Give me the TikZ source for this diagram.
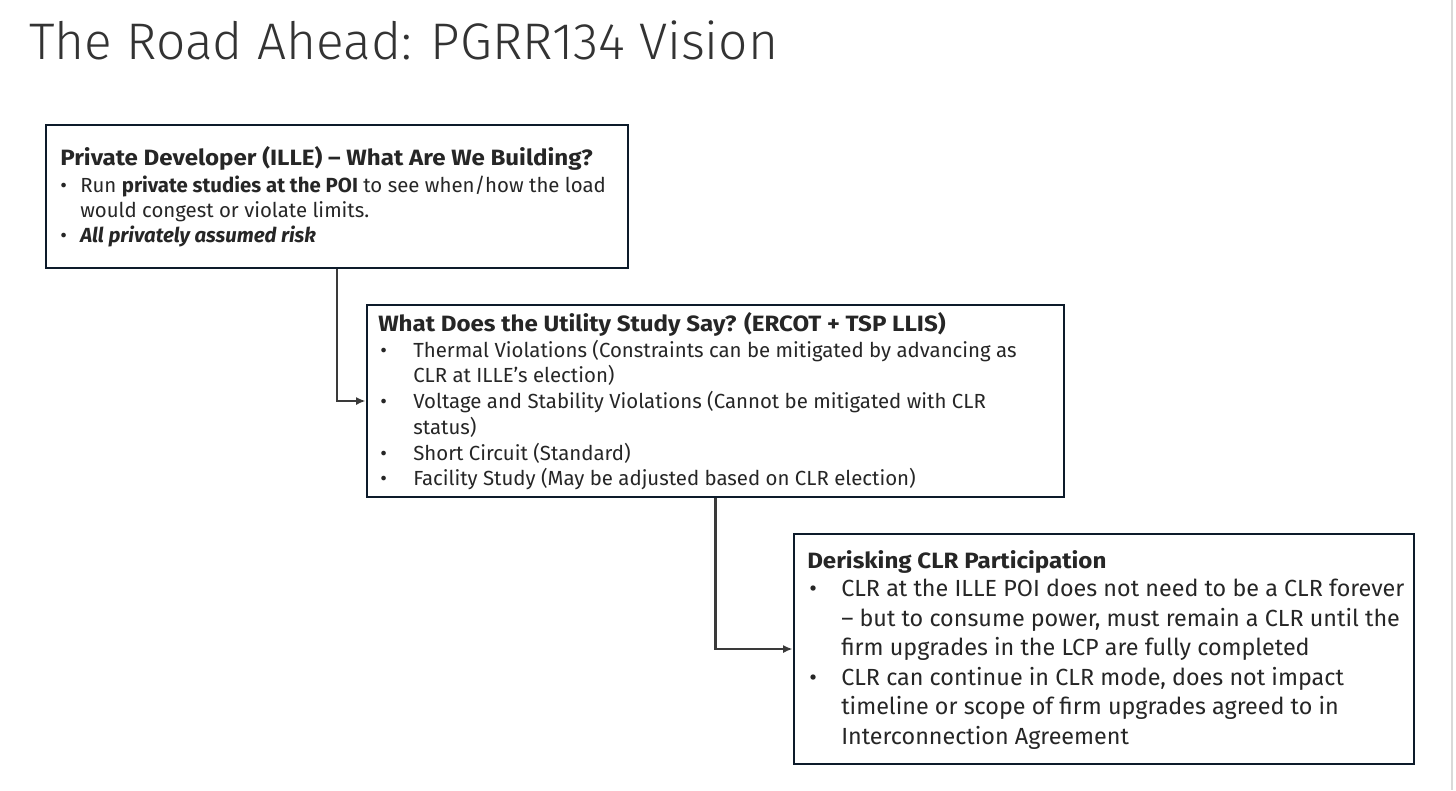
\documentclass[tikz,border=0pt]{standalone}
\usepackage{fontspec}
\setmainfont{Fira Sans}
\newfontfamily\hdfont{Fira Sans}[FakeStretch=1.09]
\newfontfamily\titlefont{Fira Sans Light}
\usetikzlibrary{arrows.meta,fit}
\definecolor{boxc}{HTML}{0D1B2A}
\definecolor{txt}{HTML}{262626}
\definecolor{titc}{HTML}{333333}
\definecolor{conn}{HTML}{3A3A3A}
\definecolor{edgec}{HTML}{D9D9D9}
\begin{document}
\begin{tikzpicture}[x=0.75pt,y=-0.75pt,
  box/.style={draw=boxc, line width=2.2pt, inner sep=0pt},
  tl/.style={anchor=base west, inner sep=0pt, text=txt},
  hd/.style={tl, font=\hdfont\fontsize{16.6}{19}\selectfont\bfseries},
  bA/.style={tl, font=\fontsize{15.3}{18}\selectfont},
  bC/.style={tl, font=\fontsize{17.5}{21}\selectfont},
  conn/.style={draw=conn, line width=1.6pt, -{Latex[length=7pt,width=6pt]}}]
\useasboundingbox (0,0) rectangle (1456,790);
\fill[white] (0,0) rectangle (1456,790);
\draw[edgec, line width=2.2pt] (1452,0) -- (1452,790);

\node[tl, text=titc, font=\titlefont\fontsize{38.6}{46}\selectfont] (title) at (29,59.5) {The Road Ahead: PGRR134 Vision};

% boxes
\node[box, fit={(46,125) (628,268)}] (box1) {};
\node[box, fit={(367,305) (1064,497)}] (box2) {};
\node[box, fit={(794,534) (1414,764)}] (box3) {};

% box 1 text
\node[hd] (h1) at (60,165.7) {Private Developer (ILLE) – What Are We Building?};
\node[bA] (p1a) at (60,192.3) {•};
\node[bA] (t1a) at (80,192.3) {Run \textbf{private studies at the POI} to see when/how the load};
\node[bA] (t1b) at (80,217.3) {would congest or violate limits.};
\node[bA] (p1b) at (60,242.3) {•};
\node[bA] (t1c) at (80,242.3) {\textbf{\textit{All privately assumed risk}}};

% box 2 text
\node[hd] (h2) at (378,331.5) {What Does the Utility Study Say? (ERCOT + TSP LLIS)};
\node[bA] (p2a) at (380,357.5) {•};
\node[bA] (t2a) at (413,357.5) {Thermal Violations (Constraints can be mitigated by advancing as};
\node[bA] (t2b) at (413,382.5) {CLR at ILLE’s election)};
\node[bA] (p2b) at (380,408.5) {•};
\node[bA] (t2c) at (413,408.5) {Voltage and Stability Violations (Cannot be mitigated with CLR};
\node[bA] (t2d) at (413,434.5) {status)};
\node[bA] (p2c) at (380,460.5) {•};
\node[bA] (t2e) at (413,460.5) {Short Circuit (Standard)};
\node[bA] (p2d) at (380,485.5) {•};
\node[bA] (t2f) at (413,485.5) {Facility Study (May be adjusted based on CLR election)};

% box 3 text
\node[hd] (h3) at (807,568) {Derisking CLR Participation};
\node[bC] (p3a) at (809,596.5) {•};
\node[bC] (t3a) at (841,596.5) {CLR at the ILLE POI does not need to be a CLR forever};
\node[bC] (t3b) at (841,626) {– but to consume power, must remain a CLR until the};
\node[bC] (t3c) at (841,655.5) {firm upgrades in the LCP are fully completed};
\node[bC] (p3b) at (809,685) {•};
\node[bC] (t3d) at (841,685) {CLR can continue in CLR mode, does not impact};
\node[bC] (t3e) at (841,714.5) {timeline or scope of firm upgrades agreed to in};
\node[bC] (t3f) at (841,744) {Interconnection Agreement};

% connectors
\draw[conn] (box1.south) |- (box2.west);
\draw[conn] (box2.south) |- (box3.west);
\end{tikzpicture}
\end{document}
